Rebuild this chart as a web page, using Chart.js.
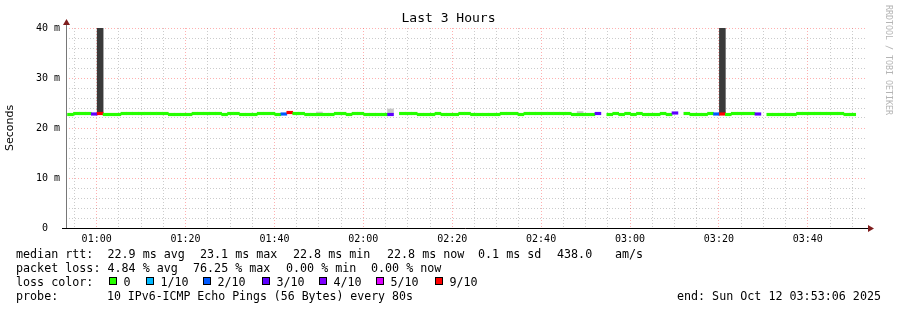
<!DOCTYPE html>
<html>
<head>
<meta charset="utf-8">
<title>Last 3 Hours</title>
<script src="https://cdn.jsdelivr.net/npm/chart.js@4.4.0/dist/chart.umd.min.js"></script>
<style>
  html, body { margin: 0; padding: 0; background: #fff; }
  #wrap { width: 897px; height: 310px; }
</style>
</head>
<body>
<div id="wrap"><canvas id="myChart" width="897" height="310"></canvas></div>
<script>
// median rtt (ms) for every 80 s probe step, null = no data
const median = [
  22.7, 22.9, 22.9, 22.9, 22.8, 22.9, 22.7, 22.7, 22.7, 22.9,
  22.9, 22.9, 22.9, 22.9, 22.9, 22.9, 22.9, 22.7, 22.7, 22.7,
  22.7, 22.9, 22.9, 22.9, 22.9, 22.9, 22.7, 22.9, 22.9, 22.7,
  22.7, 22.7, 22.9, 22.9, 22.9, 22.7, 22.8, 23.1, 22.9, 22.9,
  22.7, 22.7, 22.7, 22.7, 22.7, 22.9, 22.9, 22.7, 22.9, 22.9,
  22.7, 22.7, 22.7, 22.7, 22.7, null, 22.9, 22.9, 22.9, 22.7,
  22.7, 22.7, 22.9, 22.7, 22.7, 22.7, 22.9, 22.9, 22.7, 22.7,
  22.7, 22.7, 22.7, 22.9, 22.9, 22.9, 22.7, 22.9, 22.9, 22.9,
  22.9, 22.9, 22.9, 22.9, 22.9, 22.7, 22.7, 22.7, 22.7, 22.9,
  null, 22.7, 22.9, 22.7, 22.9, 22.7, 22.9, 22.7, 22.7, 22.7,
  22.9, 22.7, 23.0, null, 22.9, 22.7, 22.7, 22.7, 22.9, 22.8,
  22.8, 22.7, 22.9, 22.9, 22.9, 22.9, 22.8, null, 22.7, 22.7,
  22.7, 22.7, 22.7, 22.9, 22.9, 22.9, 22.9, 22.9, 22.9, 22.9,
  22.9, 22.7, 22.7
];

// steps with packet loss (%)
const lossStep = [4, 5, 36, 37, 54, 89, 102, 109, 110, 116];
const lossPct = [30, 76.25, 20, 70, 30, 30, 30, 20, 70, 30];

// smoke (spread of the pings) where it shows above the median
const smokeStep = [5, 42, 54, 86, 110];
const smokeLow = [22.9, 22.9, 22.9, 22.9, 22.9];
const smokeHigh = [45, 23.2, 23.8, 23.3, 45];

// loss colour legend
const lossLabels = ["0", "1/10", "2/10", "3/10", "4/10", "5/10", "9/10"];
const lossKeys = [0, 1, 2, 3, 4, 5, 10];
const lossColors = ["#26ff00", "#00b8ff", "#0059ff", "#5e00ff", "#7e00ff", "#dd00ff", "#ff0000"];

const rttText = ["median rtt:", "22.9 ms avg", "23.1 ms max", "22.8 ms min", "22.8 ms now", "0.1 ms sd", "438.0", "am/s"];
const lossText = ["packet loss:", "4.84 % avg", "76.25 % max", "0.00 % min", "0.00 % now"];
const probeText = "10 IPv6-ICMP Echo Pings (56 Bytes) every 80s";
const endText = "end: Sun Oct 12 03:53:06 2025";

// time axis in minutes after midnight
const startMin = 53.1;   // 00:53:06
const endMin = 233.1;    // 03:53:06
const stepStart = 53.45;
const stepLen = 80 / 60;
const times = median.map((_, i) => stepStart + (i + 0.5) * stepLen);

const lossAt = median.map(() => 0);
lossStep.forEach((s, k) => { lossAt[s] = lossPct[k]; });

function lossColor(p) {
  const tenth = p / 10;
  for (let i = 0; i < lossKeys.length; i++) {
    if (tenth <= lossKeys[i]) return lossColors[i];
  }
  return lossColors[lossColors.length - 1];
}

const medPts = [];
const medCols = [];
median.forEach((m, i) => {
  if (m === null) return;
  medPts.push({ x: times[i], y: [m - 0.25, m + 0.25] });
  medCols.push(lossColor(lossAt[i]));
});

const smokePts = smokeStep.map((s, k) => ({ x: times[s], y: [smokeLow[k], smokeHigh[k]] }));
const smokeCols = smokeStep.map((s) => (lossAt[s] >= 50 ? "#3a3a3a" : "#c8c8c8"));

const MONO = "DejaVu Sans Mono";
const PINK = "rgba(255, 80, 80, 0.45)";
const GRAY = "rgba(0, 0, 0, 0.2)";

function pad2(n) { return (n < 10 ? "0" : "") + n; }
function isMult(v, m) { return Math.abs(v / m - Math.round(v / m)) < 1e-6; }
function gridCol(c, m) {
  if (!c.tick) return GRAY;
  return isMult(c.tick.value, m) ? PINK : GRAY;
}

const rrdDecor = {
  id: "rrdDecor",
  afterDatasetsDraw(chart) {
    const ctx = chart.ctx;
    const a = chart.chartArea;
    ctx.save();
    // y axis
    ctx.strokeStyle = "#777";
    ctx.lineWidth = 1;
    ctx.beginPath();
    ctx.moveTo(a.left + 0.5, a.top - 4);
    ctx.lineTo(a.left + 0.5, a.bottom + 1);
    ctx.stroke();
    // x axis
    ctx.strokeStyle = "#000";
    ctx.beginPath();
    ctx.moveTo(a.left - 4, a.bottom + 0.5);
    ctx.lineTo(a.right + 3, a.bottom + 0.5);
    ctx.stroke();
    // arrows
    ctx.fillStyle = "#7f1d1d";
    ctx.beginPath();
    ctx.moveTo(a.left + 0.5, a.top - 9);
    ctx.lineTo(a.left - 3, a.top - 3);
    ctx.lineTo(a.left + 4, a.top - 3);
    ctx.closePath();
    ctx.fill();
    ctx.beginPath();
    ctx.moveTo(a.right + 8, a.bottom + 0.5);
    ctx.lineTo(a.right + 2, a.bottom - 3);
    ctx.lineTo(a.right + 2, a.bottom + 4);
    ctx.closePath();
    ctx.fill();
    ctx.restore();
  },
  afterDraw(chart) {
    const ctx = chart.ctx;
    ctx.save();
    // watermark
    ctx.fillStyle = "#b4b4b4";
    ctx.font = "8.3px '" + MONO + "'";
    ctx.textBaseline = "middle";
    ctx.textAlign = "left";
    ctx.translate(888.5, 5);
    ctx.rotate(Math.PI / 2);
    ctx.fillText("RRDTOOL / TOBI OETIKER", 0, 0);
    ctx.restore();

    ctx.save();
    ctx.fillStyle = "#000";
    ctx.font = "11.7px '" + MONO + "'";
    ctx.textBaseline = "middle";
    ctx.textAlign = "left";
    const rttX = [16, 107.5, 200, 293, 387, 478, 557, 615];
    rttText.forEach((t, i) => ctx.fillText(t, rttX[i], 254.5));
    const lossX = [16, 107.5, 193, 286, 371];
    lossText.forEach((t, i) => ctx.fillText(t, lossX[i], 268.5));
    ctx.fillText("loss color:", 16, 282.5);
    const sqX = [109, 146, 203, 262, 319, 376, 435];
    lossLabels.forEach((lab, i) => {
      ctx.fillStyle = lossColors[i];
      ctx.fillRect(sqX[i] + 0.5, 277.5, 7, 7);
      ctx.strokeStyle = "#000";
      ctx.lineWidth = 1;
      ctx.strokeRect(sqX[i] + 0.5, 277.5, 7, 7);
      ctx.fillStyle = "#000";
      ctx.fillText(lab, sqX[i] + 14.5, 282.5);
    });
    ctx.fillText("probe:", 16, 296.5);
    ctx.font = "11.55px '" + MONO + "'";
    ctx.fillText(probeText, 107, 296.5);
    ctx.textAlign = "right";
    ctx.font = "11.7px '" + MONO + "'";
    ctx.fillText(endText, 881, 296.5);
    ctx.restore();
  }
};

const config = {
  type: "bar",
  data: {
    datasets: [
      {
        label: "median rtt",
        data: medPts,
        backgroundColor: medCols,
        borderWidth: 0,
        barPercentage: 1,
        categoryPercentage: 1,
        grouped: false,
        order: 0,
      },
      {
        label: "smoke",
        data: smokePts,
        backgroundColor: smokeCols,
        borderWidth: 0,
        barPercentage: 1,
        categoryPercentage: 1,
        grouped: false,
        order: 1,
      },
    ],
  },
  options: {
    responsive: false,
    devicePixelRatio: 1,
    animation: false,
    layout: { padding: 0 },
    plugins: {
      legend: { display: false },
      tooltip: { enabled: false },
      title: {
        display: true,
        text: "Last 3 Hours",
        color: "#000",
        font: { family: MONO, size: 13, weight: "normal" },
        padding: { top: 11, bottom: 1.4 },
      },
    },
    scales: {
      x: {
        type: "linear",
        offset: false,
        min: startMin,
        max: endMin,
        afterBuildTicks: (axis) => {
          // a tick every 5 minutes, labels every 20
          const ticks = [];
          for (let v = Math.ceil(startMin / 5) * 5; v <= endMin; v += 5) ticks.push({ value: v });
          axis.ticks = ticks;
        },
        afterFit: (s) => { s.height = 82; },
        ticks: {
          autoSkip: false,
          maxRotation: 0,
          padding: 5,
          color: "#000",
          font: { family: MONO, size: 10 },
          callback: (v) => {
            if (!isMult(v, 20)) return "";
            const m = Math.round(v);
            return pad2(Math.floor(m / 60)) + ":" + pad2(m % 60);
          },
        },
        grid: {
          offset: false,
          color: (c) => gridCol(c, 20),
          drawTicks: false,
          borderDash: [1, 2],
        },
        border: { display: false, dash: [1, 2] },
      },
      y: {
        min: 0,
        max: 40,
        afterFit: (s) => { s.width = 66; },
        ticks: {
          stepSize: 2,
          autoSkip: false,
          padding: 6,
          color: "#000",
          font: { family: MONO, size: 10 },
          callback: (v) => (isMult(v, 10) ? (v === 0 ? "0  " : v + " m") : ""),
        },
        grid: {
          color: (c) => gridCol(c, 10),
          drawTicks: false,
          borderDash: [1, 2],
        },
        border: { display: false, dash: [1, 2] },
        title: {
          display: true,
          text: "Seconds",
          color: "#000",
          font: { family: "DejaVu Sans", size: 11 },
          padding: { top: 4, bottom: 0 },
        },
      },
      side: {
        position: "right",
        min: 0,
        max: 1,
        afterFit: (s) => { s.width = 31; },
        ticks: { display: false },
        grid: { display: false, drawTicks: false },
        border: { display: false },
      },
    },
  },
  plugins: [rrdDecor],
};

const myChart = new Chart(document.getElementById("myChart"), config);
</script>
</body>
</html>
